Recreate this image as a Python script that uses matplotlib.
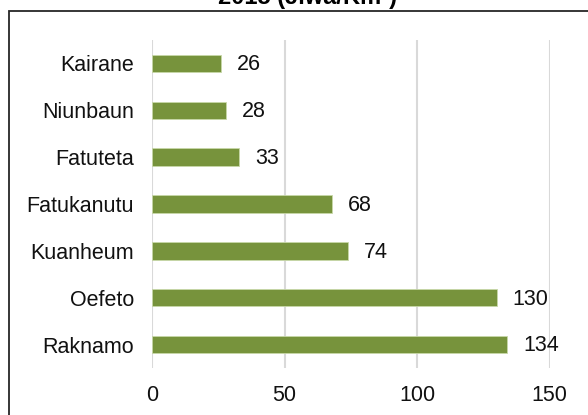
import numpy as np
import matplotlib.pyplot as plt
from matplotlib.patches import Rectangle

plt.rcParams['font.family'] = ['Liberation Sans', 'DejaVu Sans']

villages = ["Raknamo", "Oefeto", "Kuanheum", "Fatukanutu", "Fatuteta", "Niunbaun", "Kairane"]
density = [134, 130, 74, 68, 33, 28, 26]
x_ticks = [0, 50, 100, 150]

fig = plt.figure(figsize=(5.88, 4.15), dpi=100)
ax = fig.add_axes([152 / 588, 1 - 368 / 415, 397.6 / 588, 328 / 415])

# outer chart border (runs off the right and bottom edge)
fig.patches.append(Rectangle((8.5 / 588, -0.1), 1.2, 1 - 11 / 415 + 0.1,
                             transform=fig.transFigure, fill=False,
                             edgecolor='#262626', linewidth=1.3))

fig.text(307 / 588, 1 - 4 / 415, "2015 (Jiwa/Km²)", ha='center', va='baseline',
         fontsize=17, fontweight='bold', color='black')

y = np.arange(len(villages))
bars = ax.barh(y, density, height=0.37, color='#77933c', edgecolor='#c8d8a8', linewidth=0.6)

for yi, v in zip(y, density):
    ax.text(v + 6.0, yi - 0.03, str(v), va='center', ha='left', fontsize=15.5, color='#111111')

ax.set_xlim(0, 150)
ax.set_ylim(-0.5, len(villages) - 0.5)
ax.set_yticks(y)
ax.set_yticklabels(villages, fontsize=15.5, color='#111111')
ax.set_xticks(x_ticks)
ax.set_xticklabels([str(t) for t in x_ticks], fontsize=15.5, color='#111111')
ax.tick_params(axis='both', length=0)
ax.tick_params(axis='y', pad=13)
ax.tick_params(axis='x', pad=12)

ax.grid(axis='x', color='#d9d9d9', linewidth=1.5)
ax.set_axisbelow(True)
for s in ax.spines.values():
    s.set_visible(False)

fig.savefig("out.png", dpi=100)
